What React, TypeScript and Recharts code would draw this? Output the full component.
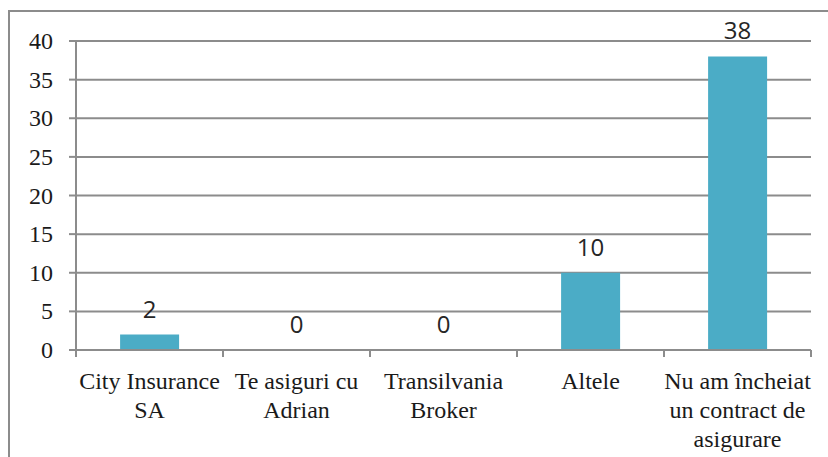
import { useEffect, useState } from "react";
import { ComposedChart, Bar, Line, XAxis, YAxis, CartesianGrid } from "recharts";

const categories = [
    "City Insurance SA",
    "Te asiguri cu Adrian",
    "Transilvania Broker",
    "Altele",
    "Nu am încheiat un contract de asigurare",
];
const values = [2, 0, 0, 10, 38];
const yTicks = [0, 5, 10, 15, 20, 25, 30, 35, 40];

const WIDTH = 828;
const HEIGHT = 457;
const MARGIN = { top: 41, right: 17, left: 0, bottom: 0 };
const Y_AXIS_W = 76;
const PLOT_W = WIDTH - MARGIN.left - MARGIN.right - Y_AXIS_W;
const GRAY = "#8c8c8c";
const SERIF = "'Liberation Serif', 'Times New Roman', serif";
const SANS = "'Open Sans', sans-serif";

const data = categories.map((name, i) => ({ name, value: values[i] }));

// simple word wrap measured with canvas
let ctx: CanvasRenderingContext2D | null = null;
function wrap(text: string, maxWidth: number, font: string): string[] {
    if (!ctx) ctx = document.createElement("canvas").getContext("2d");
    if (!ctx) return [text];
    ctx.font = font;
    const words = text.split(" ");
    const lines: string[] = [];
    let cur = "";
    for (const w of words) {
        const test = cur ? cur + " " + w : w;
        if (cur && ctx.measureText(test).width > maxWidth) {
            lines.push(cur);
            cur = w;
        } else {
            cur = test;
        }
    }
    if (cur) lines.push(cur);
    return lines;
}

function CategoryTick(props: any) {
    const { x, y, payload, index } = props;
    const half = PLOT_W / categories.length / 2;
    const lines = wrap(String(payload.value), 160, `24px ${SERIF}`);
    return (
        <g>
            <line x1={x - half} x2={x - half} y1={y} y2={y + 7} stroke={GRAY} strokeWidth={2} />
            {index === categories.length - 1 && (
                <line x1={x + half} x2={x + half} y1={y} y2={y + 7} stroke={GRAY} strokeWidth={2} />
            )}
            <text x={x} y={y + 39} textAnchor="middle" style={{ fontFamily: SERIF, fontSize: 24, fill: "#1a1a1a" }}>
                {lines.map((l, i) => (
                    <tspan key={i} x={x} dy={i === 0 ? 0 : 29}>
                        {l}
                    </tspan>
                ))}
            </text>
        </g>
    );
}

function ValueTick(props: any) {
    const { x, y, payload } = props;
    return (
        <text x={x} y={y + 8} textAnchor="end" style={{ fontFamily: SERIF, fontSize: 24, fill: "#1a1a1a" }}>
            {payload.value}
        </text>
    );
}

function ValueLabel(props: any) {
    const { x, y, value } = props;
    return (
        <text x={x} y={y - 17} textAnchor="middle" style={{ fontFamily: SANS, fontSize: 24, fill: "#262626" }}>
            {value}
        </text>
    );
}

export default function App() {
    const [, setReady] = useState(false);
    useEffect(() => {
        Promise.all([
            document.fonts.load(`24px ${SERIF}`),
            document.fonts.load(`24px ${SANS}`),
        ]).then(() => setReady(true));
    }, []);

    return (
        <div style={{ position: "absolute", left: 0, top: 0, width: WIDTH, height: HEIGHT, overflow: "hidden", background: "#fff" }}>
            {/* keep the fonts in use in the page so they are loaded */}
            <span style={{ position: "absolute", left: 0, top: 0, opacity: 0, fontFamily: SERIF, fontSize: 24 }}>Aa0</span>
            <span style={{ position: "absolute", left: 0, top: 0, opacity: 0, fontFamily: SANS, fontSize: 24 }}>Aa0</span>
            <div
                style={{
                    position: "absolute",
                    left: 8,
                    top: 10,
                    width: 900,
                    height: 500,
                    border: `2px solid ${GRAY}`,
                }}
            />
            <ComposedChart
                width={WIDTH}
                height={HEIGHT}
                data={data}
                margin={MARGIN}
                barCategoryGap="30%"
                style={{ position: "absolute", left: 0, top: 0 }}
            >
                <CartesianGrid vertical={false} stroke={GRAY} strokeWidth={2} />
                <XAxis
                    dataKey="name"
                    interval={0}
                    height={HEIGHT - MARGIN.top - 309}
                    tickLine={false}
                    tickSize={0}
                    tickMargin={0}
                    axisLine={{ stroke: GRAY, strokeWidth: 2 }}
                    tick={<CategoryTick />}
                />
                <YAxis
                    width={Y_AXIS_W}
                    domain={[0, 40]}
                    ticks={yTicks}
                    interval={0}
                    tickSize={7}
                    tickMargin={16}
                    axisLine={{ stroke: GRAY, strokeWidth: 2 }}
                    tickLine={{ stroke: GRAY, strokeWidth: 2 }}
                    tick={<ValueTick />}
                />
                <Bar dataKey="value" fill="#4BACC6" isAnimationActive={false} />
                <Line
                    dataKey="value"
                    stroke="none"
                    dot={false}
                    activeDot={false}
                    isAnimationActive={false}
                    label={<ValueLabel />}
                />
            </ComposedChart>
        </div>
    );
}
